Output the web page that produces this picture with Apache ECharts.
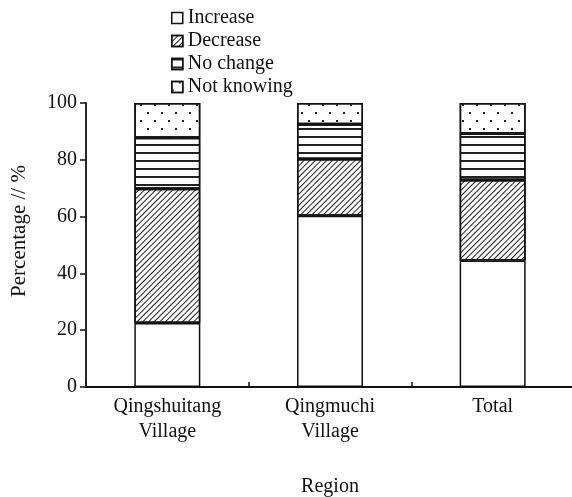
<!DOCTYPE html>
<html>
<head>
<meta charset="utf-8">
<script src="https://cdn.jsdelivr.net/npm/echarts@6/dist/echarts.min.js"></script>
<style>html,body{margin:0;padding:0;background:#fff}#c{width:572px;height:497px}</style>
</head>
<body>
<div id="c"></div>
<script>
var categories = ['Qingshuitang\nVillage', 'Qingmuchi\nVillage', 'Total'];
var seriesNames = ['Increase', 'Decrease', 'No change', 'Not knowing'];
var increase = [22.5, 60.3, 44.5];
var decrease = [47.3, 20.0, 28.4];
var noChange = [18.0, 12.2, 16.4];
var notKnowing = [12.2, 7.5, 10.7];
var yTicks = [0, 20, 40, 60, 80, 100];

var FONT = 'Liberation Serif';
var decals = [
  null,
  {symbol: 'rect', symbolSize: 1, dashArrayX: [1, 0], dashArrayY: [1, 2.8], rotation: -Math.PI / 4, color: '#222', backgroundColor: null},
  {symbol: 'rect', symbolSize: 1, dashArrayX: [1, 0], dashArrayY: [1.2, 5.3], rotation: 0, color: '#222', backgroundColor: null},
  {symbol: 'rect', symbolSize: 1, dashArrayX: [[1.6, 11.4], [0, 6.5, 1.6, 4.9]], dashArrayY: [1.6, 5.9], rotation: 0, color: '#222', backgroundColor: null}
];
var dataSets = [increase, decrease, noChange, notKnowing];

var chart = echarts.init(document.getElementById('c'), null, {renderer: 'canvas'});
var series = seriesNames.map(function (name, i) {
  var s = {
    name: name,
    type: 'bar',
    stack: 'all',
    barWidth: 66,
    data: dataSets[i],
    itemStyle: {color: '#fff', borderColor: '#111', borderWidth: 1.5},
    emphasis: {disabled: true}
  };
  if (decals[i]) s.itemStyle.decal = decals[i];
  return s;
});

chart.setOption({
  animation: false,
  backgroundColor: '#fff',
  legend: {
    orient: 'vertical',
    left: 166,
    top: 3,
    itemWidth: 11,
    itemHeight: 11,
    itemGap: 3,
    icon: 'rect',
    data: seriesNames,
    textStyle: {fontFamily: FONT, fontSize: 20, color: '#111', lineHeight: 20},
    itemStyle: {borderColor: '#111', borderWidth: 1.5}
  },
  grid: {left: 86, top: 103, height: 284, width: 488, containLabel: false, outerBoundsMode: 'none'},
  xAxis: {
    type: 'category',
    data: categories,
    name: 'Region',
    nameLocation: 'middle',
    nameGap: 90,
    nameTextStyle: {fontFamily: FONT, fontSize: 20, color: '#111'},
    axisLine: {lineStyle: {color: '#111', width: 1.8}},
    axisTick: {show: true, inside: true, length: 5, lineStyle: {color: '#111', width: 1.5}},
    axisLabel: {fontFamily: FONT, fontSize: 20, color: '#111', lineHeight: 25, margin: 7}
  },
  yAxis: {
    type: 'value',
    min: 0,
    max: 100,
    interval: 20,
    name: 'Percentage // %',
    nameLocation: 'middle',
    nameGap: 56,
    nameTextStyle: {fontFamily: FONT, fontSize: 21, color: '#111', padding: [0, 0, 0, 28]},
    axisLine: {show: true, lineStyle: {color: '#111', width: 1.8}},
    axisTick: {show: true, length: 6, lineStyle: {color: '#111', width: 1.5}},
    axisLabel: {fontFamily: FONT, fontSize: 20, color: '#111', margin: 9,
      formatter: function (v) { return yTicks.indexOf(v) >= 0 ? String(v) : ''; }},
    splitLine: {show: false}
  },
  series: series
});
</script>
</body>
</html>
